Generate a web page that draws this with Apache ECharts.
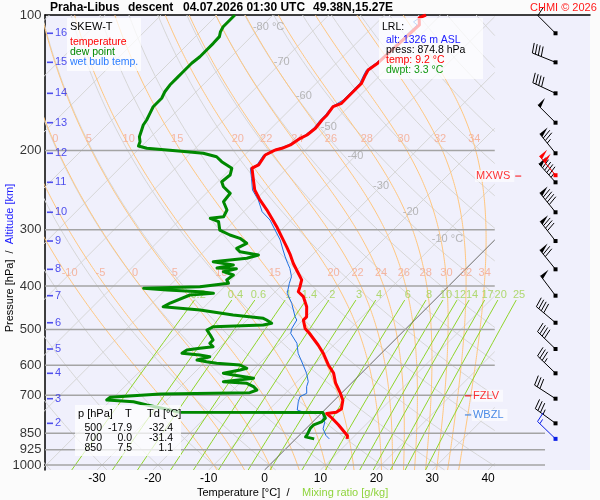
<!DOCTYPE html>
<html>
<head>
<meta charset="utf-8">
<script src="https://cdn.jsdelivr.net/npm/echarts@6/dist/echarts.min.js"></script>
<style>
  html, body { margin: 0; padding: 0; background: #fbfbfb; }
  #main { width: 600px; height: 500px; }
</style>
</head>
<body>
<div id="main"></div>
<script>
var pressureTicks = [100, 200, 300, 400, 500, 600, 700, 850, 925, 1000];
var tempTicks = [-30, -20, -10, 0, 10, 20, 30, 40];
var altKm = [16, 15, 14, 13, 12, 11, 10, 9, 8, 7, 6, 5, 4, 3, 2];
var altP = [109.8, 127.4, 149.3, 173.5, 202.9, 235.4, 274.4, 317.9, 367.4, 420.5, 482.9, 552.4, 625.5, 712.3, 808.0];
var windDir = [315, 292, 295, 315, 321, 318, 321, 322, 321, 323, 310, 314, 314, 303, 306];
var windSpd = [10, 40, 40, 50, 75, 95, 90, 80, 70, 50, 40, 40, 35, 30, 35];
var maxWind = [227, 320, 100];   // p, dir, kt
var lrlWind = [874.8, 314, 15];

var isotherms = [-120, -110, -100, -90, -80, -70, -60, -50, -40, -30, -20, -10, 0, 10, 20, 30, 40];
var isoLabelT = [-80, -70, -60, -50, -40, -30, -20, -10];
var isoLabelP = [106.3, 127.2, 151.1, 177.0, 205.6, 239.9, 274.4, 314.7];
var dryAdiabats = [-40, -30, -20, -10, 0, 10, 20, 30, 40, 50, 60, 70, 80, 90, 100, 110, 120, 130, 140, 150, 160, 170];
var moistAdiabats = [-10, -5, 0, 5, 10, 15, 20, 22, 24, 26, 28, 30, 32, 34];
var mixRatios = [0.2, 0.4, 0.6, 1, 1.4, 2, 3, 4, 6, 8, 10, 12, 14, 17, 20, 25];

var tableP = [500, 700, 850];
var tableT = [-17.9, 0.0, 7.5];
var tableTd = [-32.4, -31.4, 1.1];
var lrlAlt = 1326, lrlPress = 874.8, lrlTemp = 9.2, lrlDwpt = 3.3;
var fzlvP = 702, wbzlP = 774, mxwsP = 228;

var tempProfile = [[100,-52.6],[101.5,-53.3],[105.2,-52.0],[127.8,-52.6],[132.5,-53.1],[135.9,-52.7],[141.9,-51.9],[145.5,-51.9],[148.1,-51.9],[154.5,-51.9],[157.1,-51.9],[159.9,-52.8],[166.8,-52.4],[171.1,-52.4],[178.5,-52.1],[184.8,-52.4],[188.0,-53.0],[194.4,-53.6],[197.8,-54.5],[199.5,-55.4],[201.2,-55.7],[204.7,-56.3],[215.4,-55.7],[219.0,-56.3],[230.5,-54.3],[244.9,-51.9],[257.6,-49.2],[271.0,-46.2],[282.9,-43.8],[295.4,-41.4],[311.1,-38.7],[327.6,-36.0],[341.4,-33.9],[356.2,-31.9],[374.9,-29.2],[387.9,-27.4],[401.5,-26.5],[412.0,-25.9],[422.6,-24.1],[445.0,-21.7],[468.7,-19.9],[476.5,-19.9],[497.2,-18.1],[510.2,-16.4],[541.2,-12.8],[564.5,-10.4],[599.3,-7.4],[624.9,-5.0],[657.0,-2.9],[692.4,-0.2],[717.6,1.5],[750.4,2.8],[763.7,2.5],[768.6,1.0],[786.9,2.8],[813.8,5.1],[861.0,8.7],[874.8,9.2]];

var dewProfile = [[100,-86.8],[102.6,-86.8],[106.2,-86.8],[108.9,-86.4],[111.7,-85.7],[115.6,-85.6],[119.6,-85.6],[123.8,-85.6],[128.0,-85.9],[133.7,-85.9],[137.1,-85.9],[143.1,-85.9],[148.1,-85.6],[153.1,-85.0],[159.9,-85.0],[165.4,-84.4],[171.1,-83.8],[175.6,-83.5],[180.1,-82.9],[186.4,-82.1],[191.2,-81.1],[195.5,-80.6],[197.8,-78.7],[199.5,-74.8],[201.3,-70.9],[202.9,-67.7],[206.5,-64.7],[211.8,-62.9],[215.4,-61.4],[219.1,-59.9],[226.8,-59.0],[234.7,-59.3],[240.8,-58.1],[249.0,-55.7],[260.0,-55.4],[271.2,-53.3],[280.7,-52.7],[283.0,-54.8],[285.5,-54.8],[288.0,-52.7],[300.5,-51.0],[308.2,-48.3],[313.5,-45.9],[321.6,-43.8],[330.0,-44.7],[335.8,-43.5],[341.5,-39.6],[347.3,-41.1],[353.4,-46.5],[359.4,-42.3],[364.9,-44.7],[366.2,-41.1],[371.9,-42.9],[378.3,-40.5],[388.1,-40.8],[394.7,-39.9],[401.6,-44.4],[404.9,-54.2],[408.4,-49.7],[412.0,-43.5],[415.4,-40.8],[419.0,-44.7],[436.6,-46.8],[444.9,-47.4],[452.4,-40.2],[464.2,-33.4],[472.1,-27.4],[476.2,-26.5],[484.3,-25.0],[488.5,-26.2],[492.8,-34.8],[501.2,-35.4],[514.2,-33.9],[527.5,-32.5],[536.5,-32.5],[545.9,-31.3],[550.4,-33.4],[555.2,-35.4],[564.6,-35.7],[569.6,-32.2],[574.6,-30.1],[584.4,-31.8],[589.5,-29.8],[594.3,-27.7],[599.5,-23.2],[609.7,-21.4],[615.1,-22.3],[625.5,-24.7],[630.9,-22.6],[641.7,-18.4],[652.9,-23.2],[658.3,-18.7],[669.8,-16.9],[681.2,-15.7],[690.7,-16.5],[695.3,-32.3],[707.2,-40.7],[717.0,-40.8],[723.3,-35.7],[735.6,-32.7],[752.0,-28.4],[763.6,-25.5],[764.0,0.1],[786.9,1.6],[800.6,1.6],[814.0,0.7],[828.0,0.7],[842.0,1.0],[856.0,1.3],[866.0,1.4],[874.8,3.3]];

var wetProfile = [[100,-53.0],[103.6,-53.6],[105.2,-52.4],[127.8,-52.9],[132.5,-53.4],[135.9,-53.0],[141.9,-52.2],[148.1,-52.2],[154.5,-52.2],[159.9,-53.0],[166.8,-52.7],[171.1,-52.7],[178.5,-52.4],[184.8,-52.7],[188.0,-53.3],[194.4,-53.9],[199.5,-55.6],[204.7,-56.6],[215.4,-56.0],[219.0,-56.6],[230.5,-54.6],[244.9,-52.3],[257.6,-49.5],[273.6,-46.7],[285.5,-43.8],[300.5,-41.1],[316.2,-38.4],[332.8,-36.1],[344.6,-34.5],[356.2,-32.9],[365.5,-31.6],[381.6,-29.8],[394.7,-29.0],[415.4,-27.6],[437.2,-25.0],[468.2,-22.0],[476.2,-21.1],[496.9,-20.5],[509.8,-19.8],[536.5,-16.9],[564.6,-14.9],[599.5,-11.9],[625.5,-9.8],[652.9,-8.0],[669.8,-7.4],[692.8,-6.2],[705.0,-6.8],[723.3,-6.2],[754.7,-4.9],[765.1,-3.0],[767.4,0.4],[789.7,1.3],[803.1,2.2],[831.1,3.1],[859.7,4.8],[874.8,6.0]];

// ---- skew-T frame ----
var P_TOP = 100, P_BOT = 1025.9;
var X_MIN = -39.31, X_MAX = 58.25;   // skewed temperature units across the grid
var X_DIAG = 41.2;                   // right end of the diagram lines
var X_WIDE = 50.2;                   // lower isobars run further
var SKEW = 35;
var BARB_X = 52.08;

function sx(t, p) { return t + SKEW * Math.log(P_BOT / p); }
function toXY(prof) { return prof.map(function (d) { return [sx(d[1], d[0]), d[0]]; }); }

function clipRight(pts, lim) {
    var out = [], cur = [];
    function cut(a, b) {
        var f = (lim - a[0]) / (b[0] - a[0]);
        return [lim, Math.exp(Math.log(a[1]) + f * (Math.log(b[1]) - Math.log(a[1])))];
    }
    for (var i = 0; i < pts.length; i++) {
        var p = pts[i];
        if (p[0] <= lim) {
            if (!cur.length && i > 0) cur.push(cut(pts[i - 1], p));
            cur.push(p);
        } else if (cur.length) {
            cur.push(cut(pts[i - 1], p));
            out.push(cur);
            cur = [];
        }
    }
    if (cur.length > 1) out.push(cur);
    return out;
}

function logLevels(p0, p1, n) {
    var a = [];
    for (var i = 0; i <= n; i++) a.push(Math.exp(Math.log(p0) + (Math.log(p1) - Math.log(p0)) * i / n));
    return a;
}

var isothermLines = [];
isotherms.forEach(function (t) {
    clipRight([[sx(t, P_BOT), P_BOT], [sx(t, P_TOP), P_TOP]], X_DIAG).forEach(function (c) { isothermLines.push({ coords: c }); });
});
var zeroLine = clipRight([[sx(0, P_BOT), P_BOT], [sx(0, P_TOP), P_TOP]], X_DIAG).map(function (c) { return { coords: c }; });

var dryLines = [];
dryAdiabats.forEach(function (th) {
    var pts = logLevels(P_BOT, P_TOP, 60).map(function (p) {
        return [sx((th + 273.15) * Math.pow(p / 1000, 0.2857) - 273.15, p), p];
    });
    clipRight(pts, X_DIAG).forEach(function (c) { dryLines.push({ coords: c }); });
});

// pseudo-adiabats, integrated in ln p
function moistProfile(tw) {
    var Rd = 287.04, cp = 1005.7, Lv = 2.501e6, eps = 0.622;
    function f(T, p) {
        var tc = T - 273.15;
        var es = 6.112 * Math.exp(17.67 * tc / (tc + 243.5));
        var rs = eps * es / (p - es);
        return (Rd * T + Lv * rs) / (cp + Lv * Lv * rs * eps / (Rd * T * T));
    }
    function step(T, lp, h) {
        var k1 = f(T, Math.exp(lp));
        var k2 = f(T + 0.5 * h * k1, Math.exp(lp + 0.5 * h));
        return T + h * k2;
    }
    var res = [];
    var lpb = Math.log(P_BOT), lp0 = Math.log(1000);
    res.push([P_BOT, step(tw + 273.15, lp0, lpb - lp0) - 273.15]);
    var T = tw + 273.15, lp = lp0, h = -0.01;
    res.push([1000, tw]);
    while (lp > Math.log(P_TOP) + 1e-9) {
        var hh = Math.max(h, Math.log(P_TOP) - lp);
        T = step(T, lp, hh);
        lp += hh;
        res.push([Math.exp(lp), T - 273.15]);
    }
    return res;
}
function tAt(prof, p) {
    for (var i = 1; i < prof.length; i++) {
        if (prof[i][0] <= p) {
            var a = prof[i - 1], b = prof[i];
            var f = (Math.log(p) - Math.log(a[0])) / (Math.log(b[0]) - Math.log(a[0]));
            return a[1] + f * (b[1] - a[1]);
        }
    }
    return prof[prof.length - 1][1];
}

var moistLines = [], moistLabels = [];
moistAdiabats.forEach(function (tw) {
    var prof = moistProfile(tw);
    clipRight(toXY(prof), X_DIAG).forEach(function (c) { moistLines.push({ coords: c }); });
    [386, 194.6].forEach(function (lp) {
        var x = sx(tAt(prof, lp), lp);
        if (x > X_MIN + 0.8 && x < X_DIAG) moistLabels.push({ name: String(tw), value: [x, lp] });
    });
});

function dewFromMix(r, p) {
    var e = r / 1000 * p / (0.622 + r / 1000);
    var l = Math.log(e / 6.112);
    return 243.5 * l / (17.67 - l);
}
var mixLines = [], mixLabels = [];
mixRatios.forEach(function (r) {
    var pts = logLevels(P_BOT, 430, 12).map(function (p) { return [sx(dewFromMix(r, p), p), p]; });
    mixLines.push({ coords: pts });
    mixLabels.push({ name: String(r), value: [sx(dewFromMix(r, 419), 419), 419] });
});

var isobarLines = pressureTicks.filter(function (p) { return p > P_TOP; }).map(function (p) {
    return { coords: [[X_MIN, p], [p >= 850 ? X_WIDE : X_DIAG, p]] };
});

var isoLabels = isoLabelT.map(function (t, i) {
    var txt = (i === 0 || i === isoLabelT.length - 1) ? t + ' °C' : String(t);
    return { name: txt, value: [sx(t, isoLabelP[i]), isoLabelP[i]] };
});

// ---- wind barbs ----
function barbRender(color) {
    return function (params, api) {
        var c = api.coord([BARB_X, api.value(0)]);
        var dir = api.value(1) * Math.PI / 180, spd = api.value(2);
        var ux = Math.sin(dir), uy = -Math.cos(dir);
        var px = -uy, py = ux;
        var L = 25, bl = 10;
        var tip = [c[0] + ux * L, c[1] + uy * L];
        var kids = [{ type: 'line', shape: { x1: c[0], y1: c[1], x2: tip[0], y2: tip[1] }, style: { stroke: color, lineWidth: 1 } }];
        var s = Math.round(spd / 5) * 5, pos = 0;
        function at(d) { return [tip[0] - ux * d, tip[1] - uy * d]; }
        while (s >= 50) {
            var a = at(pos), b = at(pos + 4);
            kids.push({ type: 'polygon', shape: { points: [a, [a[0] + px * bl, a[1] + py * bl], b] }, style: { fill: color } });
            pos += 5.5; s -= 50;
        }
        while (s >= 10) {
            var q = at(pos);
            kids.push({ type: 'line', shape: { x1: q[0], y1: q[1], x2: q[0] + px * bl + ux * 2, y2: q[1] + py * bl + uy * 2 }, style: { stroke: color, lineWidth: 1 } });
            pos += 3.2; s -= 10;
        }
        if (s >= 5) {
            if (pos === 0) pos = 3.2;
            var h = at(pos);
            kids.push({ type: 'line', shape: { x1: h[0], y1: h[1], x2: h[0] + px * bl * 0.5 + ux, y2: h[1] + py * bl * 0.5 + uy }, style: { stroke: color, lineWidth: 1 } });
        }
        kids.push({ type: 'rect', shape: { x: c[0] - 2, y: c[1] - 2, width: 4, height: 4 }, style: { fill: color } });
        return { type: 'group', children: kids };
    };
}

function textSeries(data, label, z) {
    return {
        type: 'scatter', data: data, symbol: 'circle', symbolSize: 1, clip: false, silent: true, z: z,
        itemStyle: { color: 'transparent' },
        label: Object.assign({ show: true, formatter: '{b}' }, label)
    };
}
function gridLines(data, color, width, z) {
    return {
        type: 'lines', coordinateSystem: 'cartesian2d', polyline: true, silent: true, clip: true, z: z,
        lineStyle: { color: color, width: width, opacity: 1 }, data: data
    };
}
function profile(data, color, width, z) {
    return {
        type: 'line', data: toXY(data), showSymbol: false, silent: true, clip: true, z: z,
        lineStyle: { color: color, width: width, join: 'round' }
    };
}

function txt(x, y, text, font, fill, extra) {
    return Object.assign({ type: 'text', x: x, y: y, z: 100, silent: true,
        style: { text: text, font: font, fill: fill, verticalAlign: 'middle' } }, extra || {});
}
function box(x, y, w, h) {
    return { type: 'rect', z: 99, silent: true, shape: { x: x, y: y, width: w, height: h }, style: { fill: 'rgba(255,255,255,0.72)' } };
}

var F = '"Liberation Sans", Arial, sans-serif';
var fmt1 = function (v) { return v.toFixed(1); };

var graphics = [
    txt(50, 8, 'Praha-Libus', 'bold 12px ' + F, '#000'),
    txt(128, 8, 'descent', 'bold 12px ' + F, '#000'),
    txt(183, 8, '04.07.2026 01:30 UTC', 'bold 12px ' + F, '#000'),
    txt(313, 8, '49.38N,15.27E', 'bold 12px ' + F, '#000'),
    txt(530, 8, 'CHMI © 2026', '11px ' + F, '#ff1a1a'),
    box(67, 18, 74, 53),
    txt(70, 27, 'SKEW-T', '11px ' + F, '#000'),
    txt(70, 42, 'temperature', '10.5px ' + F, '#ff0000'),
    txt(70, 52, 'dew point', '10.5px ' + F, '#008800'),
    txt(70, 62, 'wet bulb temp.', '10.5px ' + F, '#2a7cff'),
    box(379, 18, 104, 61),
    txt(382, 27, 'LRL:', '10.5px ' + F, '#000'),
    txt(386, 40, 'alt: ' + lrlAlt + ' m ASL', '10.5px ' + F, '#1a1aff'),
    txt(386, 50, 'press: ' + fmt1(lrlPress) + ' hPa', '10.5px ' + F, '#000'),
    txt(386, 60, 'temp: ' + fmt1(lrlTemp) + ' °C', '10.5px ' + F, '#ff0000'),
    txt(386, 70, 'dwpt: ' + fmt1(lrlDwpt) + ' °C', '10.5px ' + F, '#119911'),
    box(75, 405, 106, 51),
    txt(78, 414, 'p [hPa]', '11px ' + F, '#000'),
    txt(125, 414, 'T', '11px ' + F, '#000'),
    txt(147, 414, 'Td [°C]', '11px ' + F, '#000'),
    txt(10, 258, '{a|Pressure [hPa]}  {a|/}  {b|Altitude [km]}', '11px ' + F, '#000',
        { rotation: Math.PI / 2 }),
    txt(197, 493, 'Temperature [°C]  /', '11px ' + F, '#000'),
    txt(302, 493, 'Mixing ratio [g/kg]', '11px ' + F, '#8fd43c')
];
graphics[graphics.length - 3].style.align = 'center';
graphics[graphics.length - 3].style.rich = { a: { fill: '#000', font: '11px ' + F }, b: { fill: '#1a1aff', font: '11px ' + F } };
tableP.forEach(function (p, i) {
    var y = 428 + i * 10;
    graphics.push(txt(102, y, String(p), '10.5px ' + F, '#000'));
    graphics.push(txt(132, y, fmt1(tableT[i]), '10.5px ' + F, '#000'));
    graphics.push(txt(173, y, fmt1(tableTd[i]), '10.5px ' + F, '#000'));
    graphics[graphics.length - 1].style.align = 'right';
    graphics[graphics.length - 2].style.align = 'right';
    graphics[graphics.length - 3].style.align = 'right';
});

var myChart = echarts.init(document.getElementById('main'));

var option = {
    animation: false,
    textStyle: { fontFamily: F },
    grid: { left: 45, right: 10, top: 15, bottom: 30, show: true, backgroundColor: '#f0f0fc', borderWidth: 0 },
    xAxis: [
        { type: 'value', min: X_MIN, max: X_MAX, position: 'bottom',
          axisLine: { show: false }, axisTick: { show: false }, splitLine: { show: false },
          axisLabel: { customValues: tempTicks, color: '#000', fontSize: 12, margin: 3 } },
        { type: 'value', min: X_MIN, max: X_MAX, position: 'top',
          axisLine: { show: true, onZero: false, lineStyle: { color: '#000', width: 1.5 } },
          axisTick: { show: false }, axisLabel: { show: false }, splitLine: { show: false } }
    ],
    yAxis: { type: 'log', logBase: 10, min: P_TOP, max: P_BOT, inverse: true,
        axisLine: { show: true, onZero: false, lineStyle: { color: '#000', width: 1.5 } },
        axisTick: { show: false }, axisLabel: { show: false }, splitLine: { show: false } },
    graphic: graphics,
    series: [
        gridLines(dryLines, '#d6d6d6', 1, 1),
        gridLines(isothermLines, '#d6d6d6', 1, 1),
        gridLines(moistLines, '#ffc67e', 1, 2),
        gridLines(mixLines, '#8fd42a', 1, 2),
        gridLines(zeroLine, '#5a5a5a', 0.8, 3),
        gridLines(isobarLines, '#a4a4a4', 1.5, 3),
        textSeries(isoLabels, { position: 'inside', align: 'left', offset: [-8, 0], color: '#a6a6a6', fontSize: 11 }, 4),
        textSeries(moistLabels, { position: 'inside', color: '#f5a88c', fontSize: 11, offset: [0, -6] }, 4),
        textSeries(mixLabels, { position: 'inside', color: '#9fd24e', fontSize: 11 }, 4),
        textSeries(pressureTicks.map(function (p) { return { name: String(p), value: [X_MIN, p] }; }),
            { position: 'left', distance: 3, color: '#000', fontSize: 13 }, 4),
        {
            type: 'scatter', silent: true, clip: false, z: 4,
            data: altP.map(function (p, i) { return { name: String(altKm[i]), value: [X_MIN, p] }; }),
            symbol: 'rect', symbolSize: [6, 1.6], symbolOffset: [5, 0],
            itemStyle: { color: '#2424e8' },
            label: { show: true, formatter: '{b}', position: 'right', distance: 2, color: '#2424e8', fontSize: 11 }
        },
        profile(wetProfile, '#1f6fe0', 1, 5),
        profile(dewProfile, '#008800', 3, 6),
        profile(tempProfile, '#ff0000', 3, 7),
        {
            type: 'scatter', silent: true, clip: false, z: 8, symbol: 'rect', symbolSize: [6, 1.2],
            data: [
                { name: 'FZLV', value: [36.4, fzlvP], itemStyle: { color: '#ff0000' }, label: { color: '#ff0000', position: 'right' } },
                { name: 'WBZL', value: [36.4, wbzlP], itemStyle: { color: '#1f6fe0' }, label: { color: '#1f6fe0', position: 'right' } },
                { name: 'MXWS', value: [45.4, mxwsP], itemStyle: { color: '#ff0000' }, label: { color: '#ff0000', position: 'left' } }
            ],
            label: { show: true, formatter: '{b}', fontSize: 11, distance: 1,
                backgroundColor: 'rgba(255,255,255,0.75)', padding: [1, 4, 0, 1] }
        },
        { type: 'custom', silent: true, z: 9, renderItem: barbRender('#000'),
          data: altP.map(function (p, i) { return [p, windDir[i], windSpd[i]]; }) },
        { type: 'custom', silent: true, z: 9, renderItem: barbRender('#ff0000'), data: [maxWind] },
        { type: 'custom', silent: true, z: 9, renderItem: barbRender('#0a1ee6'), data: [lrlWind] }
    ]
};

myChart.setOption(option);
</script>
</body>
</html>
